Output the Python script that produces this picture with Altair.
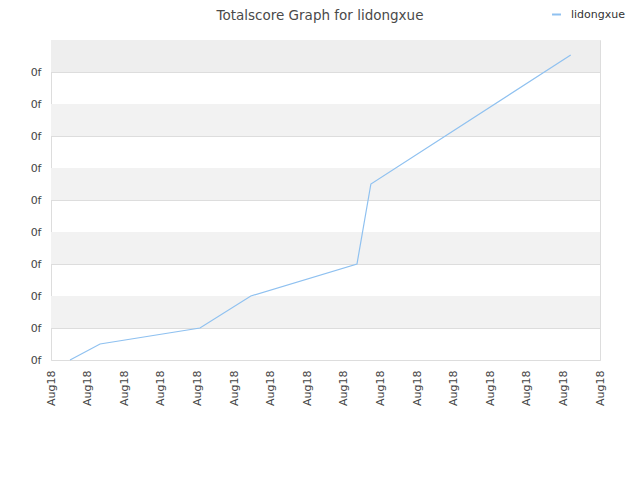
import altair as alt
import pandas as pd

# data
x_pos = [0.52, 1.34, 4.07, 5.46, 8.36, 8.74, 14.2]
scores = [0.0, 0.5, 1.0, 2.0, 3.0, 5.5, 9.53]
series = ["lidongxue"] * 7
x_ticks = list(range(16))
x_label = "Aug18"
y_ticks = list(range(10))
y_label = "0f"
band_lo = [1, 3, 5, 7, 9]
band_hi = [2, 4, 6, 8, 10]
band_col = ["#f2f2f2", "#f2f2f2", "#f2f2f2", "#f2f2f2", "#eeeeee"]
title_text = ["Totalscore Graph for lidongxue"]

df = pd.DataFrame({"x": x_pos, "y": scores, "name": series})
bands = pd.DataFrame({"lo": band_lo, "hi": band_hi, "c": band_col})
tdf = pd.DataFrame({"t": title_text})

xs = alt.Scale(domain=[0, 15], nice=False, zero=False)
ys = alt.Scale(domain=[0, 10], nice=False)

y_axis = alt.Axis(values=y_ticks, labelExpr=f"'{y_label}'", grid=True,
                  gridColor="#dddddd", domain=False, ticks=False, labelPadding=10,
                  labelFont="DejaVu Sans", labelFontSize=11, labelColor="#444")

band_layer = alt.Chart(bands).mark_rect().encode(
    x=alt.value(0), x2=alt.value(549),
    y=alt.Y("lo:Q", scale=ys, title=None, axis=y_axis),
    y2="hi:Q",
    color=alt.Color("c:N", scale=None, legend=None),
)

line = alt.Chart(df).mark_line(strokeWidth=1.2).encode(
    x=alt.X("x:Q", scale=xs, title=None,
            axis=alt.Axis(values=x_ticks, labelExpr=f"'{x_label}'", labelAngle=-90,
                          labelAlign="right", labelBaseline="middle", grid=False,
                          domain=False, ticks=False, labelPadding=10,
                          labelFont="DejaVu Sans", labelFontSize=11, labelColor="#444")),
    y=alt.Y("y:Q", scale=ys, title=None, axis=y_axis),
    color=alt.Color("name:N", scale=alt.Scale(range=["#8fc1f0"]),
                    legend=alt.Legend(title=None, orient="none", legendX=500, legendY=-31,
                                      symbolType="stroke", symbolSize=80, symbolStrokeWidth=2,
                                      labelOffset=9,
                                      labelFont="DejaVu Sans", labelFontSize=11, labelColor="#333")),
)

title = alt.Chart(tdf).mark_text(font="DejaVu Sans", fontSize=13.5, color="#4a4a4a",
                                 align="center", baseline="top").encode(
    text="t:N", x=alt.value(269), y=alt.value(-31))

chart = alt.layer(band_layer, line, title).resolve_scale(color="independent").properties(
    width=549, height=320,
    autosize=alt.AutoSizeParams(type="none"),
    padding={"left": 43, "top": 32, "right": 32, "bottom": 112},
).configure_view(stroke="#dddddd").configure(background="white")

chart.save("out.html", embed_options={"renderer": "svg", "actions": False})
